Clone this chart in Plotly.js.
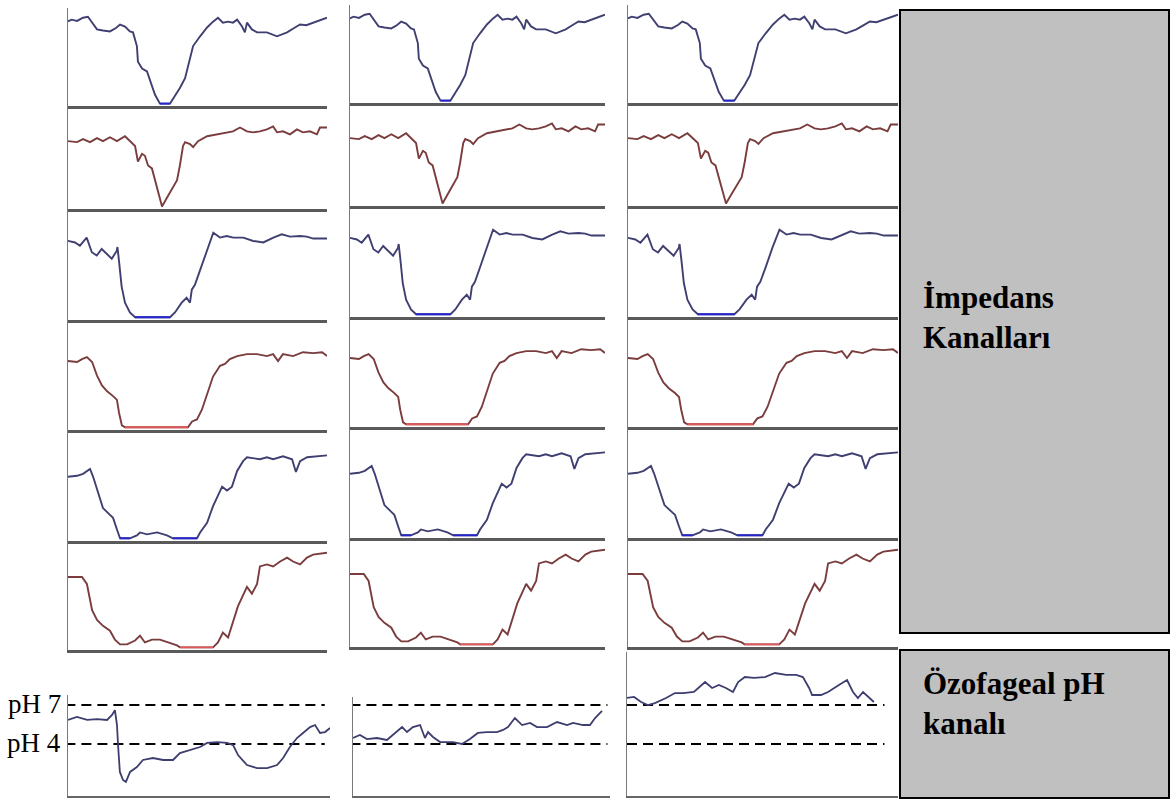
<!DOCTYPE html>
<html>
<head>
<meta charset="utf-8">
<script src="https://cdn.plot.ly/plotly-3.0.1.min.js"></script>
<style>
html,body{margin:0;padding:0;background:#fff;}
#chart{width:1172px;height:801px;}
</style>
</head>
<body>
<div id="chart"></div>
<script>
// ---------- DATA ----------
// Impedance channels (x: % of panel width, y: % of panel height above baseline)
const ch1X = [0,1.4,3.5,5.8,7.7,9.5,11.2,13.5,16.2,18.5,20.1,22.0,23.9,25.1,26.6,27.0,28.6,30.5,31.7,33.6,35.5,39.4,41.3,43.2,45.2,47.1,48.3,51.0,53.7,56.0,57.9,59.8,61.8,63.7,65.3,67.2,68.3,69.1,71.0,73.0,76.8,80.7,84.6,87.0,89.6,92.0,94.6,97.0,100];
const ch1Y = [86,87.8,86.5,89.8,90.8,84,77.6,76.5,75.5,79,82.7,80.6,75.5,74.5,60.2,43.9,36.7,33.7,23.5,9.2,0,0,8.2,16.3,26.5,46.9,60.2,70.4,79.6,85.7,89.8,84.7,85.7,84.7,87.8,80.6,74.5,84.7,77.6,74.5,74.5,70.4,74.5,78.5,82.7,82,84.7,86.5,89.8];

const ch2X = [0,3.5,5.8,8.5,11.2,13.5,16.2,18.9,22.0,23.9,25.9,27.0,28.6,29.7,30.9,32.4,34.4,36.3,38.2,40.2,42.1,43.2,44.4,45.2,47.1,48.3,50.2,53.7,57.5,61.4,63.7,66.4,69.1,71.4,74.1,76.8,79.2,80.7,83.0,85.7,88.4,90.7,93.4,96.1,97.3,100];
const ch2Y = [65.0,64.1,67.0,64.1,68.0,65.0,68.9,65.0,69.9,65.0,60.2,44.7,52.4,50.5,40.8,37.9,18.4,0,8.7,18.4,26.2,40.8,60.2,64.1,62.1,59.2,65.0,69.9,71.8,73.8,74.8,78.6,74.8,73.8,74.8,76.7,79.6,73.8,74.8,71.8,76.7,73.8,74.8,71.8,78.6,78.6];

const ch3X = [0,2.7,4.6,7.2,9.2,11.1,13.0,14.9,16.9,18.8,19.1,19.8,20.7,22.0,23.9,25.9,39.4,41.3,43.9,45.8,47.1,47.8,49.0,51.0,53.5,56.1,58.7,61.3,63.8,67.7,71.5,75.4,79.3,82.5,85.7,89.6,92.2,94.7,100];
const ch3Y = [70.6,69.1,66.1,73.6,60.1,57.1,63.1,58.6,54.1,61.3,64.9,49.5,28.6,13.5,4.5,0,0,4.5,13.5,18.0,13.5,25.5,30.0,43.5,61.5,78.1,73.6,75.0,73.6,73.6,70.5,69.1,73.6,76.6,74.5,75.0,74.5,72.7,72.7];

const ch4X = [0,3.5,5.4,7.3,9.3,11.2,13.1,15.1,17.4,18.9,19.7,20.8,22.0,46.3,47.9,49.8,51.7,53.7,56.0,58.7,60.6,62.5,65.3,69.1,73.0,76.8,79.2,81.1,83.0,86.9,90.7,94.6,98.1,100];
const ch4Y = [61.8,60.9,63.6,65.5,60.9,48.2,39.1,33.6,29.1,25.5,13.6,1.8,0,0,5.5,7.3,16.4,31.8,47.3,57.3,59.1,63.6,66.4,68.2,68.2,66.4,68.2,61.8,68.2,66.4,70.0,69.1,70.0,66.4];

const ch5X = [0,3.5,5.8,8.5,9.7,11.6,13.5,16.2,17.4,18.9,20.1,23.9,26.6,27.8,30.5,34.4,38.2,40.5,49.8,51.0,53.7,56.0,59.5,61.4,63.3,65.3,67.6,69.1,74.1,76.8,79.2,83.0,86.5,88.0,89.6,92.3,96.1,100];
const ch5Y = [56.8,57.7,59.5,64.0,56.8,41.4,27.9,21.6,18.9,8.1,0,0,2.7,5.4,3.6,5.4,2.7,0,0,5.4,14.4,29.7,47.7,44.1,47.7,62.2,71.2,74.8,73.0,74.8,73.0,75.7,73.0,61.3,71.2,74.8,75.7,76.6];

const ch6X = [0,5.4,7.3,9.3,11.2,13.5,16.2,18.1,20.1,22.8,25.9,27.8,29.7,32.4,35.5,38.6,42.1,43.2,56.0,57.9,59.8,61.8,63.7,65.6,69.1,71.0,73.0,74.1,76.8,79.2,81.9,84.6,86.9,89.6,92.3,94.6,100];
const ch6Y = [66.1,66.1,59.6,34.9,25.7,20.2,15.6,7.3,2.8,2.8,6.4,11.0,4.6,7.3,7.3,4.6,1.8,0,0,4.6,13.8,9.2,22.9,38.5,56.9,50.5,59.6,76.1,78.0,76.1,80.7,84.4,80.7,78.0,84.4,87.2,89.0];

// Esophageal pH channel, one record per column (x: % of panel width, y: pH)
const ph1X = [0,3.4,7.3,11.1,14.9,16.8,17.9,18.7,19.1,19.8,21.0,22.1,23.7,26.3,28.6,32.4,36.3,40.1,42.7,46.6,50.4,53.1,56.9,60.7,63.0,64.9,68.3,72.1,76.0,79.8,82.1,84.7,87.4,89.7,92.4,94.3,96.2,98.1,100];
const ph1Y = [5.85,6.08,5.85,5.92,5.85,6.23,6.6,5.46,3.92,1.85,1.23,1.08,1.85,2.23,2.77,2.92,2.77,2.77,3.3,3.54,3.77,4.08,4.15,4.08,3.92,3.15,2.38,2.15,2.15,2.38,2.92,3.77,4.46,4.85,5.3,5.46,4.85,4.92,5.23];

const ph2X = [0,2.7,5.4,9.3,13.2,15.6,19.1,21.0,23.3,26.1,28.0,29.2,31.1,33.9,38.9,42.4,45.5,48.6,52.1,56.0,58.4,60.3,63.0,65.8,68.9,71.6,75.5,79.4,83.3,85.6,89.5,92.2,94.2,96.9];
const ph2Y = [4.46,4.69,4.38,4.46,4.31,4.69,5.3,4.92,5.3,5.46,4.46,4.92,4.54,4.15,4.15,4.0,4.38,4.85,4.92,4.92,5.08,5.3,6.0,5.46,5.62,5.3,5.3,5.69,5.46,5.62,5.46,5.46,6.0,6.54];

const ph3X = [0,2.6,5.2,7.7,10.3,14.4,17.7,20.7,24.7,28.8,31.4,33.9,36.5,39.1,41.0,43.5,46.9,50.9,54.6,58.7,62.4,64.9,67.2,68.3,71.6,74.2,78.2,81.2,83.4,85.2,87.1,89.7,91.1];
const ph3Y = [7.54,7.62,7.23,7.0,7.15,7.54,7.92,7.92,8.0,8.77,8.31,8.54,8.31,8.0,8.77,9.15,9.08,9.15,9.46,9.31,9.31,9.15,8.31,7.77,7.77,8.0,8.54,8.92,8.0,7.54,8.0,7.54,7.23];

const phLevels = [7, 4];
const phLabels = ['pH 7', 'pH 4'];
const impedanceLabel = 'İmpedans<br>Kanalları';
const phChannelLabel = 'Özofageal pH<br>kanalı';

// ---------- LAYOUT (pixels) ----------
const W = 1172, H = 801;
const impX = [ch1X, ch2X, ch3X, ch4X, ch5X, ch6X];
const impY = [ch1Y, ch2Y, ch3Y, ch4Y, ch5Y, ch6Y];
const rowColor = ['#3f3f72', '#7a3c3c', '#3f3f72', '#7a3c3c', '#3f3f72', '#7a3c3c'];
const rowFlatColor = ['#2626d0', '#d84a4a', '#2626d0', '#e05858', '#2626d0', '#e05858'];
const impCols = [{l:68, r:327, dy:0}, {l:350, r:605, dy:-3}, {l:628, r:898, dy:-3}];
const rowTops = [8, 106, 209, 320, 430, 541];
const rowBases = [106, 209, 320, 430, 541, 650];
const phX = [ph1X, ph2X, ph3X];
const phY = [ph1Y, ph2Y, ph3Y];
const phCols = [{l:68, r:330, top:695, dash:[-1, 98]}, {l:353, r:610, top:697, dash:[-1, 99]}, {l:627, r:898, top:652, dash:[0, 95]}];
const phBase = 796, phPx = 13;

const traces = [];
const layout = {
  width: W, height: H,
  margin: {l:0, r:0, t:0, b:0, pad:0},
  paper_bgcolor: '#ffffff', plot_bgcolor: 'rgba(0,0,0,0)',
  showlegend: false,
  shapes: [], annotations: []
};
function axId(n){ return n === 1 ? '' : String(n); }
function baseX(dom){
  return {domain: dom, range: [0, 100], showgrid: false, zeroline: false, showticklabels: false,
          ticks: '', fixedrange: true, showline: true, linecolor: '#5a5a5a', linewidth: 2.5};
}
function baseY(dom, rng){
  return {domain: dom, range: rng, showgrid: false, zeroline: false, showticklabels: false,
          ticks: '', fixedrange: true, showline: true, linecolor: '#7a7a7a', linewidth: 1.5};
}

let n = 0;
impCols.forEach(col => {
  for (let r = 0; r < 6; r++) {
    n++;
    const id = axId(n);
    const xa = baseX([col.l / W, col.r / W]); xa.anchor = 'y' + id;
    const ya = baseY([1 - (rowBases[r] + col.dy) / H, 1 - (rowTops[r] + col.dy) / H], [-2.5, 100]); ya.anchor = 'x' + id;
    layout['xaxis' + id] = xa;
    layout['yaxis' + id] = ya;
    traces.push({type: 'scatter', mode: 'lines', x: impX[r], y: impY[r], xaxis: 'x' + id, yaxis: 'y' + id,
                 line: {color: rowColor[r], width: 1.9}, hoverinfo: 'skip'});
    // highlight the flat (zero-impedance) stretches
    const fx = [], fy = [];
    for (let i = 0; i < impY[r].length - 1; i++) {
      if (impY[r][i] <= 0.5 && impY[r][i + 1] <= 0.5) {
        fx.push(impX[r][i], impX[r][i + 1], null);
        fy.push(impY[r][i], impY[r][i + 1], null);
      }
    }
    if (fx.length) traces.push({type: 'scatter', mode: 'lines', x: fx, y: fy, xaxis: 'x' + id, yaxis: 'y' + id,
                 line: {color: rowFlatColor[r], width: 1.9}, hoverinfo: 'skip'});
  }
});

let phFirstY = null;
phCols.forEach((col, c) => {
  n++;
  const id = axId(n);
  if (c === 0) phFirstY = 'y' + id;
  const xa = baseX([col.l / W, col.r / W]); xa.anchor = 'y' + id; xa.linecolor = '#666'; xa.linewidth = 2;
  const ya = baseY([1 - phBase / H, 1 - col.top / H], [0, (phBase - col.top) / phPx]); ya.anchor = 'x' + id;
  layout['xaxis' + id] = xa;
  layout['yaxis' + id] = ya;
  phLevels.forEach(lv => {
    traces.push({type: 'scatter', mode: 'lines', x: col.dash, y: [lv, lv], xaxis: 'x' + id, yaxis: 'y' + id,
                 line: {color: '#000', width: 2, dash: '10px,6px'}, hoverinfo: 'skip'});
  });
  traces.push({type: 'scatter', mode: 'lines', x: phX[c], y: phY[c], xaxis: 'x' + id, yaxis: 'y' + id,
               line: {color: '#3d3d70', width: 1.8}, hoverinfo: 'skip'});
});

phLevels.forEach((lv, i) => {
  layout.annotations.push({xref: 'paper', yref: phFirstY, x: 63 / W, y: lv, xanchor: 'right', yanchor: 'middle',
    yshift: 1, showarrow: false, text: phLabels[i],
    font: {family: 'Liberation Serif, Times New Roman, serif', size: 27, color: '#000'}});
});

// grey label boxes
layout.shapes.push({type: 'rect', xref: 'paper', yref: 'paper', x0: 900 / W, x1: 1169 / W, y0: 1 - 633 / H, y1: 1 - 10 / H,
  fillcolor: '#c0c0c0', line: {color: '#000', width: 2}, layer: 'above'});
layout.shapes.push({type: 'rect', xref: 'paper', yref: 'paper', x0: 900 / W, x1: 1169 / W, y0: 1 - 798 / H, y1: 1 - 650 / H,
  fillcolor: '#c0c0c0', line: {color: '#000', width: 2}, layer: 'above'});
layout.annotations.push({xref: 'paper', yref: 'paper', x: 921 / W, y: 1 - 317 / H, xanchor: 'left', yanchor: 'middle',
  align: 'left', showarrow: false, text: '<b>' + impedanceLabel.split('<br>').join('</b><br><b>') + '</b>',
  font: {family: 'Liberation Serif, Times New Roman, serif', size: 31, color: '#000'}});
layout.annotations.push({xref: 'paper', yref: 'paper', x: 921 / W, y: 1 - 703 / H, xanchor: 'left', yanchor: 'middle',
  align: 'left', showarrow: false, text: '<b>' + phChannelLabel.split('<br>').join('</b><br><b>') + '</b>',
  font: {family: 'Liberation Serif, Times New Roman, serif', size: 31, color: '#000'}});

Plotly.newPlot('chart', traces, layout, {staticPlot: true, displayModeBar: false});
</script>
</body>
</html>
